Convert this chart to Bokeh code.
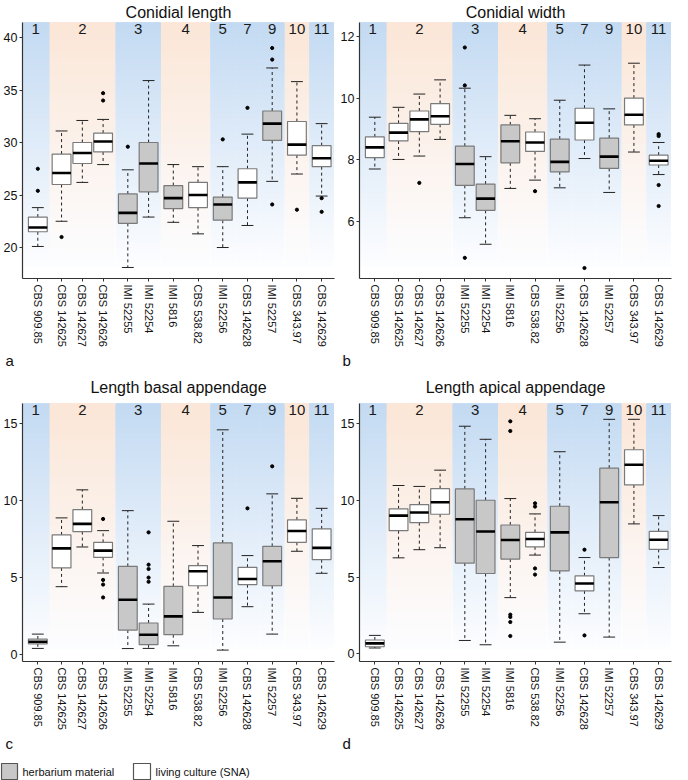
from bokeh.plotting import figure
from bokeh.layouts import column, row
from bokeh.models import Range1d, FixedTicker, Title, ColumnDataSource
from bokeh.core.properties import value
from bokeh.embed import file_html
from bokeh.resources import INLINE

FONT = "Liberation Sans"

strains = ["CBS 909.85", "CBS 142625", "CBS 142627", "CBS 142626", "IMI 52255", "IMI 52254",
           "IMI 5816", "CBS 538.82", "IMI 52256", "CBS 142628", "IMI 52257", "CBS 343.97", "CBS 142629"]
clade = ["1", "2", "2", "2", "3", "3", "4", "4", "5", "7", "9", "10", "11"]
material = ["culture", "culture", "culture", "culture", "herbarium", "herbarium", "herbarium",
            "culture", "herbarium", "culture", "herbarium", "culture", "culture"]
clade_tone = {"1": "blue", "2": "orange", "3": "blue", "4": "orange", "5": "blue", "7": "blue",
              "9": "blue", "10": "orange", "11": "blue"}

# a: conidial length
cl_lo = [20.1, 22.5, 26.2, 27.9, 18.1, 22.9, 22.4, 21.3, 20.0, 22.1, 26.3, 27.0, 24.9]
cl_q1 = [21.5, 26.0, 28.0, 29.1, 22.3, 25.3, 23.7, 23.8, 22.6, 24.7, 30.2, 28.8, 27.7]
cl_med = [21.9, 27.1, 29.0, 30.1, 23.3, 28.0, 24.7, 25.0, 24.1, 26.2, 31.8, 29.8, 28.5]
cl_q3 = [22.9, 28.9, 30.0, 30.9, 25.1, 30.0, 25.9, 26.2, 24.8, 27.5, 33.0, 32.0, 29.7]
cl_hi = [23.8, 31.1, 32.1, 32.2, 27.4, 35.9, 27.9, 27.7, 27.7, 30.8, 37.1, 35.8, 31.8]
cl_out = [[27.5, 25.4], [21.0], [], [34.7, 34.0], [29.6], [], [], [], [30.3], [33.3],
          [39.0, 37.9, 24.1], [23.6], [24.7, 23.4]]

# b: conidial width
cw_lo = [7.70, 8.01, 8.12, 8.66, 6.12, 5.26, 7.07, 7.34, 7.09, 8.04, 6.94, 8.25, 7.52]
cw_q1 = [8.07, 8.61, 8.91, 9.15, 7.17, 6.36, 7.90, 8.27, 7.61, 8.64, 7.72, 9.13, 7.83]
cw_med = [8.40, 8.88, 9.31, 9.41, 7.86, 6.74, 8.60, 8.56, 7.93, 9.20, 8.10, 9.46, 7.97]
cw_q3 = [8.74, 9.18, 9.58, 9.82, 8.44, 7.21, 9.13, 8.90, 8.67, 9.67, 8.70, 10.0, 8.15]
cw_hi = [9.38, 9.70, 10.13, 10.59, 10.32, 8.10, 9.44, 9.33, 9.93, 11.07, 9.65, 11.13, 8.56]
cw_out = [[], [], [7.25], [], [11.64, 10.41, 4.82], [], [], [6.98], [], [4.49], [], [],
          [8.83, 8.77, 7.18, 6.50]]

# c: length basal appendage
lb_lo = [0.37, 4.38, 6.96, 5.27, 0.36, 0.37, 0.54, 2.71, 0.26, 3.08, 1.30, 6.68, 5.25]
lb_q1 = [0.67, 5.60, 7.96, 6.29, 1.56, 0.61, 1.26, 4.44, 2.28, 4.51, 4.44, 7.26, 6.14]
lb_med = [0.80, 6.87, 8.46, 6.72, 3.53, 1.26, 2.45, 5.38, 3.68, 4.88, 6.03, 8.00, 6.90]
lb_q3 = [0.98, 7.74, 9.39, 7.26, 5.70, 2.02, 4.40, 5.75, 7.22, 5.64, 7.00, 8.72, 8.13]
lb_hi = [1.30, 8.85, 10.67, 8.02, 9.32, 3.25, 8.63, 7.05, 14.57, 6.40, 10.41, 10.12, 9.47]
lb_out = [[], [], [], [8.78, 4.82, 4.52, 3.68], [], [7.91, 5.81, 5.53, 4.97, 4.70], [], [], [],
          [9.47], [12.2], [], []]

# d: length apical appendage
la_lo = [0.38, 6.25, 6.78, 6.91, 0.87, 0.59, 3.66, 6.43, 0.76, 2.61, 1.09, 8.46, 5.62]
la_q1 = [0.46, 8.02, 8.54, 9.09, 5.91, 5.23, 6.17, 6.97, 5.40, 4.10, 6.27, 11.0, 6.80]
la_med = [0.68, 9.00, 9.20, 9.87, 8.76, 7.97, 7.41, 7.48, 7.91, 4.58, 9.87, 12.31, 7.43]
la_q3 = [0.90, 9.44, 9.72, 10.76, 10.74, 10.0, 8.39, 7.91, 9.61, 5.08, 12.09, 13.29, 7.97]
la_hi = [1.20, 10.96, 10.90, 11.96, 14.82, 13.97, 10.11, 9.11, 13.16, 6.27, 15.27, 15.27, 9.00]
la_out = [[], [], [], [], [], [], [15.14, 14.51, 2.55, 2.40, 2.07, 1.16], [9.80, 9.59, 5.56, 5.16],
          [], [6.78, 1.20], [], [], []]

# layout of the category axis (slot positions)
x_pos = [0, 24, 45, 66, 91, 112, 137, 162, 187, 212, 237, 262, 287]
X_START, X_END = -15.5, 300
BOX_HALF, CAP_HALF, BAND_HALF = 9.5, 6, 12.5

TOP = {"blue": (195, 218, 242), "orange": (251, 230, 215)}
BOTTOM = (252, 253, 255)
FILL = {"herbarium": "#c8c8c8", "culture": "#ffffff"}


def hexcol(c):
    return "#%02x%02x%02x" % tuple(int(round(v)) for v in c)


def make_panel(title, lo, q1, med, q3, hi, out, yr, yticks, letter,
               title_standoff, frame_h, left_b, right_b):
    p = figure(frame_width=312, frame_height=frame_h, x_range=Range1d(X_START, X_END),
               y_range=Range1d(*yr), output_backend="svg", toolbar_location=None,
               min_border_left=left_b, min_border_right=right_b,
               min_border_top=0, min_border_bottom=0)
    p.title.text = title
    p.title.align = "center"
    p.title.text_font = FONT
    p.title.text_font_size = "16px"
    p.title.text_font_style = "normal"
    p.title.text_color = "#111111"
    p.title.standoff = title_standoff

    # background bands per clade with vertical gradient
    order = []
    for c in clade:
        if c not in order:
            order.append(c)
    band_l, band_r, band_tone = [], [], []
    for i, c in enumerate(order):
        xs = [x for x, cc in zip(x_pos, clade) if cc == c]
        l = min(xs) - BAND_HALF + 0.4
        r = max(xs) + BAND_HALF - 0.4
        if i == 0:
            l = X_START
        band_l.append(l)
        band_r.append(r)
        band_tone.append(clade_tone[c])
    ylo, yhi = yr
    band_bottom = ylo + 0.047 * (yhi - ylo)
    nsteps = 40
    ql, qr, qb, qt, qc = [], [], [], [], []
    for k in range(nsteps):
        t = k / (nsteps - 1)
        b = band_bottom + t * (yhi - band_bottom) * 0.98
        for l, r, tone in zip(band_l, band_r, band_tone):
            top = TOP[tone]
            col = tuple(BOTTOM[j] + t * (top[j] - BOTTOM[j]) for j in range(3))
            ql.append(l); qr.append(r); qb.append(b); qt.append(yhi); qc.append(hexcol(col))
    p.quad(left=ql, right=qr, bottom=qb, top=qt, fill_color=qc, line_color=None)

    centers = [(l + r) / 2 for l, r in zip(band_l, band_r)]
    centers[0] = (min(x_pos) - BAND_HALF + band_r[0]) / 2 - 2
    p.text(x=centers, y=[yhi] * len(order), text=order, text_align="center",
           text_baseline="top", y_offset=1, text_font=value(FONT),
           text_font_size="15px", text_color="#1a1a1a")

    src = ColumnDataSource(dict(
        x=x_pos, lo=lo, q1=q1, med=med, q3=q3, hi=hi,
        bl=[x - BOX_HALF for x in x_pos], br=[x + BOX_HALF for x in x_pos],
        cl=[x - CAP_HALF for x in x_pos], cr=[x + CAP_HALF for x in x_pos],
        fill=[FILL[m] for m in material]))
    p.segment(x0="x", y0="q3", x1="x", y1="hi", source=src, line_color="#222222",
              line_width=1, line_dash="3 3")
    p.segment(x0="x", y0="q1", x1="x", y1="lo", source=src, line_color="#222222",
              line_width=1, line_dash="3 3")
    p.segment(x0="cl", y0="hi", x1="cr", y1="hi", source=src, line_color="#222222", line_width=1)
    p.segment(x0="cl", y0="lo", x1="cr", y1="lo", source=src, line_color="#222222", line_width=1)
    p.quad(left="bl", right="br", bottom="q1", top="q3", source=src, fill_color="fill",
           line_color="#7a7a7a", line_width=1.2)
    p.segment(x0="bl", y0="med", x1="br", y1="med", source=src, line_color="#000000",
              line_width=2.6)
    ox, oy = [], []
    for x, vals in zip(x_pos, out):
        for v in vals:
            ox.append(x); oy.append(v)
    p.scatter(ox, oy, size=3.2, color="#000000")

    p.xgrid.visible = False
    p.ygrid.visible = False
    p.outline_line_color = None
    p.xaxis.ticker = FixedTicker(ticks=x_pos)
    p.xaxis.major_label_overrides = {x: s for x, s in zip(x_pos, strains)}
    p.xaxis.major_label_orientation = "vertical"
    p.xaxis.major_label_text_font_size = "11px"
    p.yaxis.ticker = FixedTicker(ticks=yticks)
    p.yaxis.major_label_text_font_size = "12.5px"
    for ax in (p.xaxis[0], p.yaxis[0]):
        ax.axis_line_color = "#333333"
        ax.axis_line_width = 1.2
        ax.major_tick_line_color = "#333333"
        ax.major_tick_out = 3
        ax.major_tick_in = 0
        ax.minor_tick_line_color = None
        ax.major_label_text_font = FONT
        ax.major_label_text_color = "#111111"
        ax.major_label_standoff = 3
    p.yaxis.major_label_standoff = 2
    p.add_layout(Title(text=letter, align="left", text_font=FONT, text_font_size="15px",
                       text_font_style="normal", text_color="#111111", offset=-17,
                       standoff=0), "below")
    return p


pa = make_panel("Conidial length", cl_lo, cl_q1, cl_med, cl_q3, cl_hi, cl_out,
                (17.05, 41.43), [20, 25, 30, 35, 40], "a", 3, 256, 20, 3)
pb = make_panel("Conidial width", cw_lo, cw_q1, cw_med, cw_q3, cw_hi, cw_out,
                (4.15, 12.45), [6, 8, 10, 12], "b", 3, 256, 22, 1)
pc = make_panel("Length basal appendage", lb_lo, lb_q1, lb_med, lb_q3, lb_hi, lb_out,
                (-0.48, 16.28), [0, 5, 10, 15], "c", 16, 258, 20, 3)
pd = make_panel("Length apical appendage", la_lo, la_q1, la_med, la_q3, la_hi, la_out,
                (-0.5, 16.3), [0, 5, 10, 15], "d", 16, 258, 22, 1)

# legend strip
leg_labels = ["herbarium material", "living culture (SNA)"]
leg_fill = [FILL["herbarium"], FILL["culture"]]
lg = figure(width=672, height=30, x_range=Range1d(0, 672), y_range=Range1d(0, 30),
            output_backend="svg", toolbar_location=None, min_border=0)
lg.axis.visible = False
lg.xgrid.visible = False
lg.ygrid.visible = False
lg.outline_line_color = None
lg.quad(left=[1, 133], right=[17, 150], bottom=[2, 2], top=[18, 18], fill_color=leg_fill,
        line_color="#555555", line_width=1.2)
lg.text(x=[22, 155], y=[10, 10], text=leg_labels, text_baseline="middle", text_align="left",
        text_font=value(FONT), text_font_size="11px", text_color="#111111")

layout = column(row(pa, pb), row(pc, pd), lg)
open("out.html", "w").write(file_html(layout, INLINE))
